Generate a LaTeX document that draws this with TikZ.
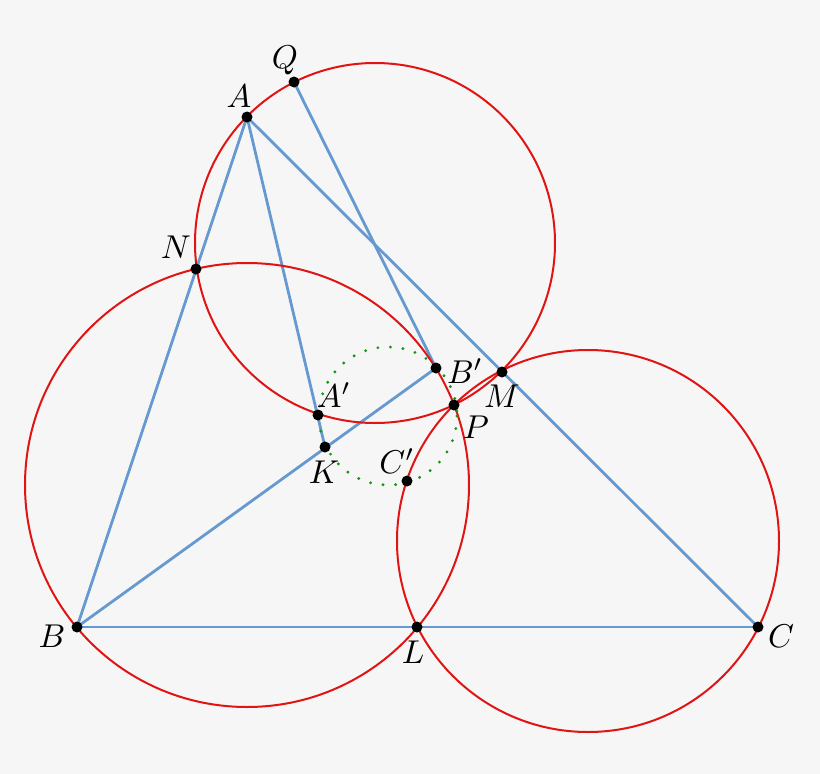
\documentclass[tikz,border=0pt]{standalone}
\usepackage{graphicx}
\usepackage{tikz}
\definecolor{bgc}{RGB}{246,246,246}
\definecolor{bluec}{RGB}{102,153,208}
\definecolor{redc}{RGB}{225,20,20}
\definecolor{greenc}{RGB}{20,150,20}
\newcommand{\ptlabel}[1]{\scalebox{3.3}{$#1$}}
\begin{document}
\begin{tikzpicture}[x=1pt,y=-1pt,
  segline/.style={draw=bluec,line width=2.8pt},
  circline/.style={draw=redc,line width=2pt},
  dotcirc/.style={draw=greenc,line width=3.2pt,line cap=round,dash pattern=on 0pt off 12.6pt},
  ptdot/.style={circle,fill=black,inner sep=0pt,minimum size=11pt},
  lbl/.style={anchor=base,inner sep=0pt}]
\fill[bgc] (0,0) rectangle (820,774);
\useasboundingbox (0,0) rectangle (820,774);
% points
\coordinate (A) at (247,117);
\coordinate (Q) at (294,82);
\coordinate (N) at (196,269);
\coordinate (B) at (77,627);
\coordinate (C) at (758,627);
\coordinate (L) at (417,627);
\coordinate (M) at (502,372);
\coordinate (Bp) at (436,368);
\coordinate (P) at (454,405);
\coordinate (Ap) at (318,415);
\coordinate (K) at (325,447);
\coordinate (Cp) at (407,481);
% blue segments
\draw[segline] (A) -- (B);
\draw[segline] (A) -- (C);
\draw[segline] (B) -- (C);
\draw[segline] (A) -- (K);
\draw[segline] (B) -- (Bp);
\draw[segline] (Q) -- (Bp);
% red circles
\draw[circline] (375,243) circle[radius=180];
\draw[circline] (247,485) circle[radius=222];
\draw[circline] (588,541) circle[radius=191];
% green dotted circle
\draw[dotcirc] (388,416) circle[radius=69];
% dots
\foreach \p in {A,Q,N,B,C,L,M,Bp,P,Ap,K,Cp} \node[ptdot] (d\p) at (\p) {};
% labels
\node[lbl] (lA) at (239,107) {\ptlabel{A}};
\node[lbl] (lQ) at (285,68) {\ptlabel{Q}};
\node[lbl] (lN) at (176,258) {\ptlabel{N}};
\node[lbl] (lB) at (52,647) {\ptlabel{B}};
\node[lbl] (lC) at (781,647) {\ptlabel{C}};
\node[lbl] (lL) at (413,663) {\ptlabel{L}};
\node[lbl] (lM) at (502,407) {\ptlabel{M}};
\node[lbl] (lBp) at (465,383) {\ptlabel{B'}};
\node[lbl] (lP) at (476,438) {\ptlabel{P}};
\node[lbl] (lAp) at (334,407) {\ptlabel{A'}};
\node[lbl] (lK) at (324,483) {\ptlabel{K}};
\node[lbl] (lCp) at (397,473) {\ptlabel{C'}};
\end{tikzpicture}
\end{document}
